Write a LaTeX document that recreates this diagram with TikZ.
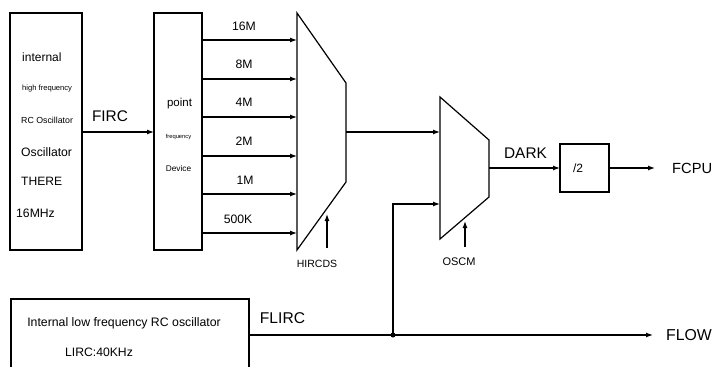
\documentclass[tikz,border=0pt]{standalone}
\usepackage{fontspec}
\setmainfont{Liberation Sans}
\usetikzlibrary{arrows.meta}
\begin{document}
\begin{tikzpicture}[x=1pt,y=-1pt,
  wire/.style={line width=1.2pt},
  arr/.style={wire,-{Latex[length=7pt,width=5pt]}},
  blk/.style={draw,line width=1.2pt,inner sep=0pt,outer sep=0pt},
  lbl/.style={inner sep=0pt,anchor=center},
  lleft/.style={inner sep=0pt,anchor=west}]
\useasboundingbox (0,0) rectangle (713,367);
\fill[white] (0,0) rectangle (713,367);
% left oscillator box
\node[blk,minimum width=72pt,minimum height=237pt] (osc) at (46,131.5) {};
\node[lleft,font=\fontsize{12}{14}\selectfont] (t1) at (22,57) {internal};
\node[lleft,font=\fontsize{7.6}{9}\selectfont] (t2) at (22,89) {high frequency};
\node[lleft,font=\fontsize{8.8}{10}\selectfont] (t3) at (21,120) {RC Oscillator};
\node[lleft,font=\fontsize{12.2}{14}\selectfont] (t4) at (21,152) {Oscillator};
\node[lleft,font=\fontsize{12.1}{14}\selectfont] (t5) at (21,181) {THERE};
\node[lleft,font=\fontsize{12.2}{14}\selectfont] (t6) at (16,213) {16MHz};
% divider box
\node[blk,minimum width=48pt,minimum height=237pt] (div) at (178,131.5) {};
\node[lbl,font=\fontsize{11.5}{13}\selectfont] (d1) at (179.5,104) {point};
\node[lbl,font=\fontsize{5.8}{7}\selectfont] (d2) at (178.5,137) {frequency};
\node[lbl,font=\fontsize{8.3}{10}\selectfont] (d3) at (178.5,169) {Device};
% FIRC
\draw[arr] (osc.east |- 0,132) -- (div.west |- 0,132);
\node[lbl,font=\fontsize{15.4}{17}\selectfont] (firc) at (110,116) {FIRC};
% mux 1
\coordinate (m1tl) at (297,13);
\coordinate (m1bl) at (297,250);
\coordinate (m1tr) at (346,83);
\coordinate (m1br) at (346,182);
\draw[wire,line join=miter] (m1tl) -- (m1tr) -- (m1br) -- (m1bl) -- cycle;
\coordinate (m1out) at (346,132);
% divider outputs
\foreach \y/\t/\lx/\ly [count=\i] in {40/16M/244/26,79/8M/244/64,117/4M/244/102,156/2M/244/141,194/1M/245/180,233/500K/238/219}{
  \coordinate (in\i) at (297,\y);
  \draw[arr] (div.east |- in\i) -- (in\i);
  \node[lbl,font=\fontsize{12.2}{14}\selectfont] (f\i) at (\lx,\ly) {\t};
}
% HIRCDS
\coordinate (hs) at (327,248);
\coordinate (he) at (327,214);
\draw[arr] (hs) -- (he);
\node[lbl,font=\fontsize{10.5}{12}\selectfont] (hircds) at (317,264) {HIRCDS};
% mux 2
\coordinate (m2tl) at (440,97);
\coordinate (m2bl) at (440,239);
\coordinate (m2tr) at (489,140);
\coordinate (m2br) at (489,197);
\draw[wire,line join=miter] (m2tl) -- (m2tr) -- (m2br) -- (m2bl) -- cycle;
\coordinate (m2in1) at (440,132);
\coordinate (m2in2) at (440,204);
\coordinate (m2out) at (489,168);
\draw[arr] (m1out) -- (m2in1);
% OSCM
\coordinate (os) at (465,247);
\coordinate (oe) at (465,221);
\draw[arr] (os) -- (oe);
\node[lbl,font=\fontsize{11}{13}\selectfont] (oscm) at (459,262) {OSCM};
% /2 box
\node[blk,minimum width=49pt,minimum height=48pt] (half) at (584.5,168) {};
\node[lbl,font=\fontsize{12}{14}\selectfont] (halft) at (578,168) {/2};
\draw[arr] (m2out) -- (half.west);
\node[lbl,font=\fontsize{15.4}{17}\selectfont] (dark) at (525.5,153) {DARK};
\coordinate (fcpuend) at (655,168);
\draw[arr] (half.east) -- (fcpuend);
\node[lleft,font=\fontsize{14.7}{17}\selectfont] (fcpu) at (672,168) {FCPU};
% low freq oscillator
\node[blk,minimum width=238pt,minimum height=90pt] (lirc) at (130,344) {};
\node[lbl,font=\fontsize{12.3}{14}\selectfont] (l1) at (124,323) {Internal low frequency RC oscillator};
\node[lbl,font=\fontsize{12.2}{14}\selectfont] (l2) at (99,352) {LIRC:40KHz};
\node[lbl,font=\fontsize{15.6}{18}\selectfont] (flirc) at (282.5,318) {FLIRC};
\coordinate (dot) at (393,335);
\coordinate (flowend) at (653,335);
\draw[wire] (lirc.east |- dot) -- (dot);
\draw[arr] (dot) -- (flowend);
\fill (dot) circle (2.5pt);
\draw[arr] (dot) -- (dot |- m2in2) -- (m2in2);
\node[lleft,font=\fontsize{15.8}{18}\selectfont] (flow) at (666,335) {FLOW};
\end{tikzpicture}
\end{document}
